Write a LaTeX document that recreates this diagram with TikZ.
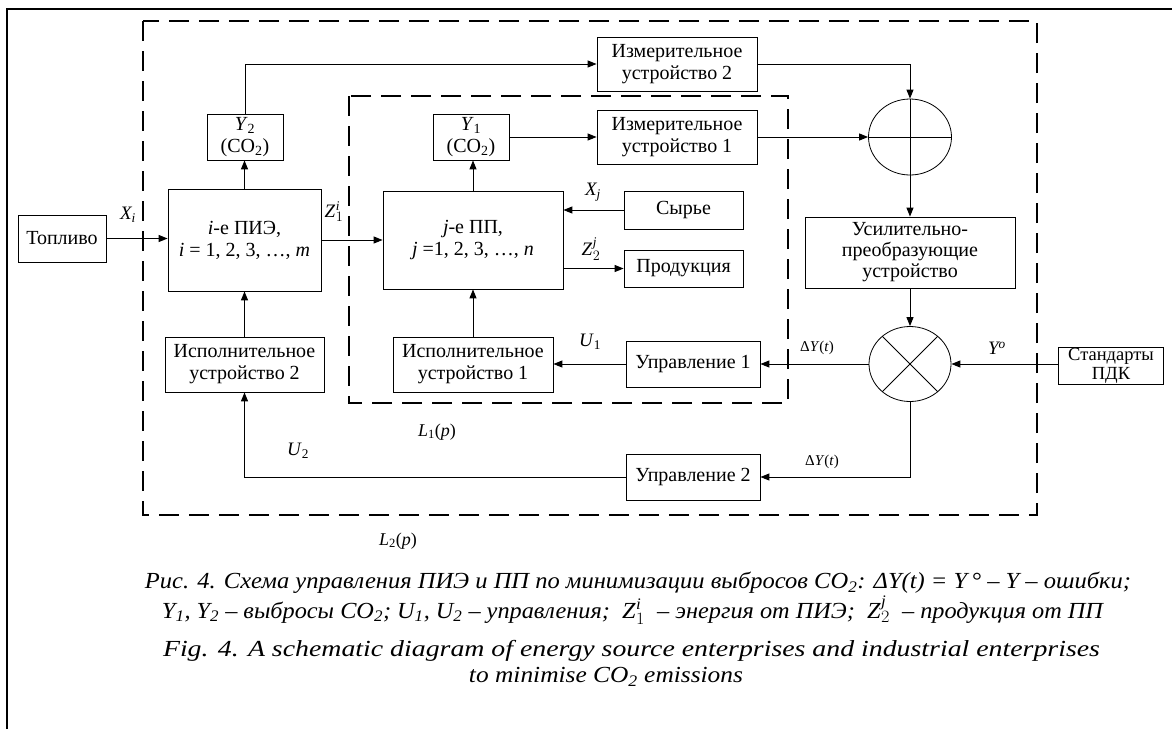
\documentclass[tikz,border=0pt]{standalone}
\usepackage{fontspec}
\usepackage{graphicx}
\setmainfont{Liberation Serif}
\usetikzlibrary{arrows.meta,shapes.geometric}
\newcommand{\Zij}[3]{\textit{#1}\kern0.5pt$^{\mathit{#3}}_{#2}$}
\begin{document}
\begin{tikzpicture}[x=1pt,y=-1pt,
  box/.style={draw,line width=0.8pt,inner sep=0pt,align=center,font=\fontsize{20}{22}\selectfont},
  conn/.style={line width=1pt,-{Triangle[length=9pt,width=7pt]}},
  thinline/.style={line width=0.8pt},
  lbl/.style={font=\fontsize{19}{22}\selectfont,inner sep=0pt},
  slbl/.style={font=\fontsize{15}{18}\selectfont,inner sep=0pt},
  captext/.style={font=\fontsize{23}{26}\selectfont\itshape,inner sep=0pt},
  region/.style={line width=1.2pt,dash pattern=on 20pt off 10pt},
  sumnode/.style={ellipse,draw,line width=0.8pt,inner sep=0pt}]
\useasboundingbox (0,0) rectangle (1172,729);
\draw[line width=1.8pt] (7,729) -- (7,9) -- (1172,9);

% dashed regions
\draw[region] (143,21) rectangle (1037,515);
\draw[region] (349,96) rectangle (788,403);

% blocks
\node[box,minimum width=88,minimum height=47] (fuel) at (62,238.5) {Топливо};
\node[box,minimum width=153,minimum height=102] (pie) at (244.5,240) {\textit{i}-е ПИЭ,\\ \textit{i} = 1, 2, 3, …, \textit{m}};
\node[box,minimum width=76,minimum height=46] (y2) at (245,137) {\textit{Y}\textsubscript{2}\\(CO\textsubscript{2})};
\node[box,minimum width=159,minimum height=55] (isp2) at (244.5,364.5) {Исполнительное\\устройство 2};
\node[box,minimum width=180,minimum height=98] (pp) at (473,240) {\textit{j}-е ПП,\\ \textit{j} =1, 2, 3, …, \textit{n}};
\node[box,minimum width=76,minimum height=46] (y1) at (471,137) {\textit{Y}\textsubscript{1}\\(CO\textsubscript{2})};
\node[box,minimum width=160,minimum height=54] (izm2) at (677,64) {Измерительное\\устройство 2};
\node[box,minimum width=160,minimum height=54] (izm1) at (677,137) {Измерительное\\устройство 1};
\node[box,minimum width=119,minimum height=38] (raw) at (683.5,210) {Сырье};
\node[box,minimum width=119,minimum height=37] (prod) at (683.5,268.5) {Продукция};
\node[box,minimum width=160,minimum height=55] (isp1) at (473,364.5) {Исполнительное\\устройство 1};
\node[box,minimum width=134,minimum height=46] (upr1) at (693,364) {Управление 1};
\node[box,minimum width=134,minimum height=46] (upr2) at (693,477) {Управление 2};
\node[box,minimum width=210,minimum height=71,font=\fontsize{20}{21}\selectfont] (amp) at (910,252.5) {Усилительно-\\преобразующие\\устройство};
\node[box,minimum width=105,minimum height=37,font=\fontsize{18.5}{19}\selectfont] (std) at (1111,366) {Стандарты\\ПДК};
\node[sumnode,minimum width=83,minimum height=76] (sum) at (910,137) {};
\node[sumnode,minimum width=82,minimum height=75] (cmp) at (910,364) {};
\draw[thinline] (sum.north) -- (sum.south);
\draw[thinline] (sum.west) -- (sum.east);
\draw[thinline] (cmp.45) -- (cmp.225);
\draw[thinline] (cmp.135) -- (cmp.315);

% connectors
\draw[conn] (fuel.east) -- (fuel.east -| pie.west);
\draw[conn] (pie.east) -- (pie.east -| pp.west);
\draw[conn] (pie.north) -- (pie.north |- y2.south);
\draw[conn] (y2.north) |- (izm2.west);
\draw[conn] (izm2.east) -| (sum.north);
\draw[conn] (pp.north) -- (pp.north |- y1.south);
\draw[conn] (y1.east) -- (y1.east -| izm1.west);
\draw[conn] (izm1.east) -- (sum.west);
\draw[conn] (sum.south) -- (amp.north);
\draw[conn] (amp.south) -- (cmp.north);
\draw[conn] (cmp.east -| std.west) -- (cmp.east);
\draw[conn] (cmp.west) -- (cmp.west -| upr1.east);
\draw[conn] (upr1.west) -- (upr1.west -| isp1.east);
\draw[conn] (isp1.north) -- (pp.south);
\draw[conn] (raw.west) -- (raw.west -| pp.east);
\draw[conn] (pp.east |- prod.west) -- (prod.west);
\draw[conn] (cmp.south) |- (upr2.east);
\draw[conn] (upr2.west) -| (isp2.south);
\draw[conn] (isp2.north) -- (pie.south);

% labels
\node[lbl] (lxi) at (128,215) {\textit{X\textsubscript{i}}};
\node[lbl] (lz1) at (334,212) {\Zij{Z}{1}{i}};
\node[lbl] (lxj) at (593,192) {\textit{X\textsubscript{j}}};
\node[lbl] (lz2) at (591,249) {\Zij{Z}{2}{j}};
\node[lbl] (lu1) at (590,342) {\textit{U}\textsubscript{1}};
\node[lbl] (lu2) at (298,451) {\textit{U}\textsubscript{2}};
\node[slbl] (ldy1) at (817,348) {Δ\textit{Y}(\textit{t})};
\node[slbl] (ldy2) at (822,462) {Δ\textit{Y}(\textit{t})};
\node[lbl] (lyo) at (997,348) {\textit{Y\textsuperscript{o}}};
\node[lbl,font=\fontsize{18}{20}\selectfont] (ll1) at (437,432) {\textit{L}\textsubscript{1}(\textit{p})};
\node[lbl,font=\fontsize{18}{20}\selectfont] (ll2) at (398,541) {\textit{L}\textsubscript{2}(\textit{p})};

% caption
\node[captext] (c1) at (638,583) {\resizebox{986pt}{\height}{Рис. 4. Схема управления ПИЭ и ПП по минимизации выбросов CO\textsubscript{2}: ΔY(t) = Y\,° – Y – ошибки;}};
\node[captext] (c2) at (632.5,610) {\resizebox{941pt}{\height}{Y\textsubscript{1}, Y\textsubscript{2} – выбросы CO\textsubscript{2}; U\textsubscript{1}, U\textsubscript{2} – управления;\ \ \Zij{Z}{1}{i}\ \ – энергия от ПИЭ;\ \ \Zij{Z}{2}{j}\ \ – продукция от ПП}};
\node[captext] (c3) at (631.5,651) {\resizebox{937pt}{\height}{Fig. 4. A schematic diagram of energy source enterprises and industrial enterprises}};
\node[captext] (c4) at (606,677) {\resizebox{274pt}{\height}{to minimise CO\textsubscript{2} emissions}};
\end{tikzpicture}
\end{document}
